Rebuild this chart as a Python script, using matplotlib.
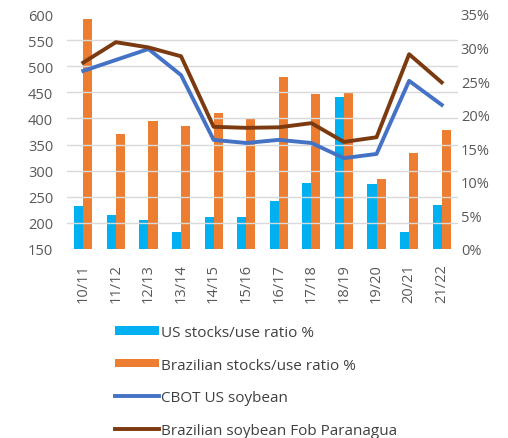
import numpy as np
import matplotlib
matplotlib.use('Agg')
import matplotlib.pyplot as plt

# data
seasons = ['10/11', '11/12', '12/13', '13/14', '14/15', '15/16',
           '16/17', '17/18', '18/19', '19/20', '20/21', '21/22']
us_ratio = [6.4, 5.1, 4.3, 2.5, 4.8, 4.8, 7.2, 9.9, 22.7, 9.7, 2.5, 6.5]
br_ratio = [34.2, 17.1, 19.1, 18.3, 20.2, 19.4, 25.6, 23.1, 23.3, 10.5, 14.3, 17.7]
cbot = [491, 512, 533, 483, 359, 353, 359, 353, 324, 332, 472, 426]
fob = [507, 546, 536, 519, 384, 382, 383, 391, 355, 364, 523, 469]

left_ticks = list(range(150, 601, 50))
right_ticks = list(range(0, 36, 5))

plt.rcParams['font.family'] = ['Open Sans', 'DejaVu Sans']

fig = plt.figure(figsize=(5.08, 4.39), dpi=100)
ax = fig.add_axes([67/508, 1-250/439, 391/508, 235/439])
ax2 = ax.twinx()

x = np.arange(len(seasons))
w = 0.28

# bars on the percent axis (drawn underneath)
b1 = ax2.bar(x - w/2, us_ratio, w, color='#00B0F0', label='US stocks/use ratio %')
b2 = ax2.bar(x + w/2, br_ratio, w, color='#ED7D31', label='Brazilian stocks/use ratio %')
ax2.set_ylim(0, 35)
ax2.set_yticks(right_ticks)
ax2.set_yticklabels([f'{t}%' for t in right_ticks])
# gridlines follow the left axis
grid_pos = [(v - 150) / 450 * 35 for v in left_ticks]
ax2.set_yticks(grid_pos, minor=True)
ax2.grid(which='minor', axis='y', color='#D9D9D9', lw=1)
ax2.tick_params(which='both', length=0)
ax2.tick_params(axis='y', pad=2, labelsize=10.5, labelcolor='#595959')

# price lines on the left axis, on top
l1, = ax.plot(x, cbot, color='#4472C4', lw=2.8, label='CBOT US soybean')
l2, = ax.plot(x, fob, color='#7B3A10', lw=2.8, label='Brazilian soybean Fob Paranagua')
ax.set_zorder(ax2.get_zorder() + 1)
ax.patch.set_visible(False)
ax.set_ylim(150, 600)
ax.set_yticks(left_ticks)
ax.set_xlim(-0.5, len(seasons) - 0.5)
ax.set_xticks(x)
ax.set_xticklabels(seasons, rotation=90)
ax.tick_params(length=0, labelsize=10.5, labelcolor='#595959')
ax.tick_params(axis='y', pad=10)
ax.tick_params(axis='x', pad=10)

for a in (ax, ax2):
    for s in a.spines.values():
        s.set_visible(False)

fig.legend(handles=[b1, b2, l1, l2], loc='upper left',
           bbox_to_anchor=(115/508, 1-326/439), frameon=False,
           fontsize=11, labelcolor='#404040', handlelength=2.9,
           handleheight=0.45, handletextpad=0.12, labelspacing=1.15,
           borderpad=0, borderaxespad=0)

fig.savefig('out.png', dpi=100)
